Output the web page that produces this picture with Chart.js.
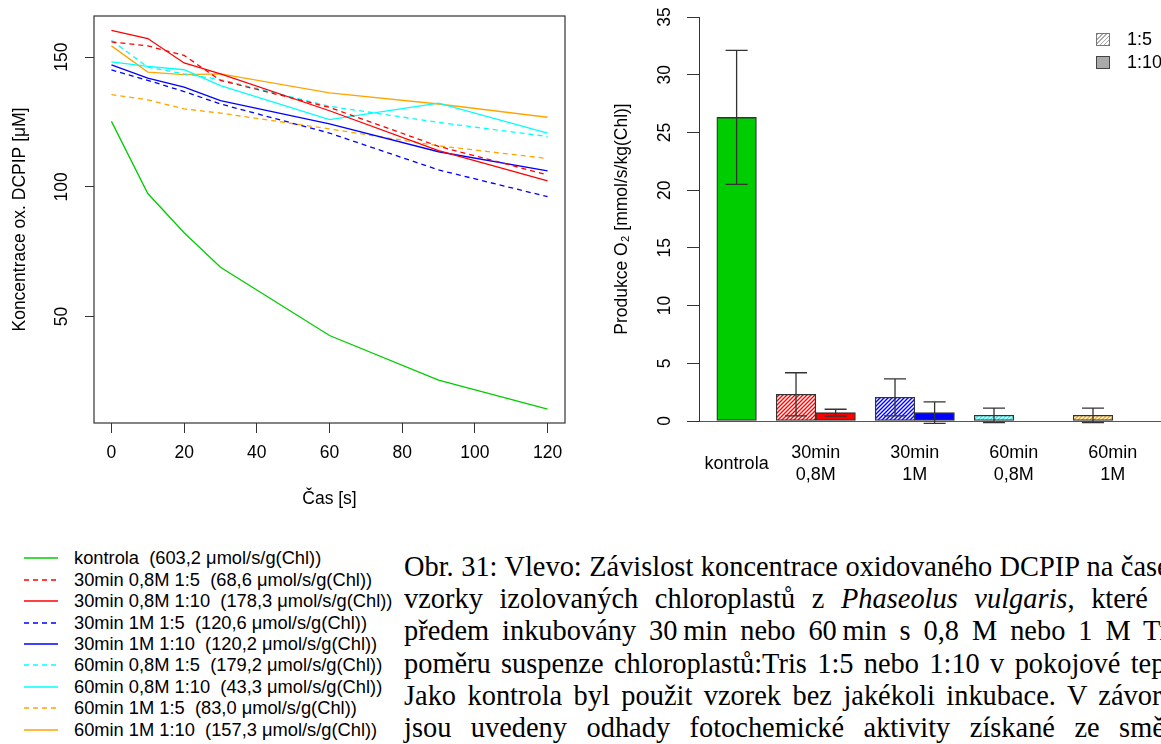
<!DOCTYPE html>
<html>
<head>
<meta charset="utf-8">
<script src="https://cdn.jsdelivr.net/npm/chart.js@4.4.0/dist/chart.umd.min.js"></script>
<style>
  html, body { margin: 0; padding: 0; background: #fff; }
  body { width: 1161px; height: 744px; overflow: hidden; position: relative; font-family: 'Liberation Sans', Arial, sans-serif; color: #000; }
  #lineWrap { position: absolute; left: 0; top: 0; }
  #barWrap { position: absolute; left: 590px; top: 0; }
  .leg { position: absolute; left: 0; height: 21.4px; line-height: 21.4px; font-size: 18.3px; white-space: pre; }
  .leg svg { position: absolute; left: 24px; top: 0; }
  .leg span { position: absolute; left: 74px; top: 0; }
  .box { position: absolute; left: 1096px; width: 12px; height: 11px; }
  .boxlab { position: absolute; left: 1127px; font-size: 18px; line-height: 22px; }
  .cap { position: absolute; left: 404px; width: 811px; font-family: 'Liberation Serif', 'Times New Roman', serif; font-size: 28.4px; line-height: 32.2px; text-align: justify; text-align-last: justify; white-space: nowrap; }
</style>
</head>
<body>
<div id="lineWrap"><canvas id="lineChart" width="580" height="530"></canvas></div>
<div id="barWrap"><canvas id="barChart" width="710" height="530"></canvas></div>

<div class="box" style="top:33px; border:1px solid #777; background:repeating-linear-gradient(-45deg, #aaa 0 1px, #fff 1px 3px);"></div>
<div class="boxlab" style="top:28px;">1:5</div>
<div class="box" style="top:56px; border:1px solid #444; background:#aaa;"></div>
<div class="boxlab" style="top:51px;">1:10</div>

<div id="legend"></div>

<div class="cap" style="top:551px;">Obr. 31: Vlevo: Závislost koncentrace oxidovaného DCPIP na čase pro</div>
<div class="cap" style="top:583.2px;">vzorky izolovaných chloroplastů z <i>Phaseolus vulgaris</i>, které byly</div>
<div class="cap" style="top:615.4px;">předem inkubovány 30&#8239;min nebo 60&#8239;min s 0,8 M nebo 1 M Tris v</div>
<div class="cap" style="top:647.6px;">poměru suspenze chloroplastů:Tris 1:5 nebo 1:10 v pokojové teplotě.</div>
<div class="cap" style="top:679.8px;">Jako kontrola byl použit vzorek bez jakékoli inkubace. V závorkách</div>
<div class="cap" style="top:712px; width:805px;">jsou uvedeny odhady fotochemické aktivity získané ze směrnic</div>

<script>
// left plot: oxidised DCPIP over time
const timeS = [0, 10, 20, 30, 60, 90, 120];
const timeTicks = [0, 20, 40, 60, 80, 100, 120];
const concTicks = [50, 100, 150];

const kontrola   = [125.2, 97.4, 82.3, 69.0, 42.7, 25.5, 14.3];
const m30_08_5   = [155.8, 154.3, 150.6, 141.0, 130.6, 115.6, 104.6];
const m30_08_10  = [160.3, 157.1, 147.7, 143.5, 129.3, 113.9, 102.3];
const m30_1_5    = [145.0, 141.0, 136.7, 131.9, 120.7, 106.5, 96.2];
const m30_1_10   = [147.0, 141.9, 138.4, 133.2, 124.2, 113.5, 106.1];
const m60_08_5   = [156.4, 146.1, 143.5, 141.3, 131.0, 124.8, 119.4];
const m60_08_10  = [148.1, 146.4, 145.1, 139.0, 125.9, 132.2, 120.7];
const m60_1_5    = [135.5, 133.5, 130.0, 128.4, 122.3, 115.8, 110.9];
const m60_1_10   = [154.3, 144.2, 143.2, 143.5, 136.2, 131.9, 126.8];

const seriesNames = ['kontrola', '30min 0,8M 1:5', '30min 0,8M 1:10', '30min 1M 1:5', '30min 1M 1:10',
  '60min 0,8M 1:5', '60min 0,8M 1:10', '60min 1M 1:5', '60min 1M 1:10'];
const seriesRates = [603.2, 68.6, 178.3, 120.6, 120.2, 179.2, 43.3, 83.0, 157.3];

// right plot: O2 production
const groups = [['kontrola'], ['30min', '0,8M'], ['30min', '1M'], ['60min', '0,8M'], ['60min', '1M']];
const ratio5 = [26.3, 2.31, 2.05, 0.49, 0.49];
const ratio5Err = [5.8, 1.87, 1.6, 0.62, 0.62];
const ratio10 = [null, 0.72, 0.72, 0, 0];
const ratio10Err = [null, 0.3, 0.93, 0, 0];
const o2Ticks = [0, 5, 10, 15, 20, 25, 30, 35];

const green = '#00cd00', red = '#ff0000', blue = '#0000ff', cyan = '#00ffff', orange = '#ffa500';
const lineStyles = [
  [green, false], [red, true], [red, false], [blue, true], [blue, false],
  [cyan, true], [cyan, false], [orange, true], [orange, false]
];
const groupColors = [green, red, blue, cyan, orange];
const seriesValues = [kontrola, m30_08_5, m30_08_10, m30_1_5, m30_1_10, m60_08_5, m60_08_10, m60_1_5, m60_1_10];

Chart.defaults.font.family = "'Liberation Sans', Arial, sans-serif";
Chart.defaults.color = '#000';

const frame = {
  id: 'frame',
  afterDraw(chart) {
    const { ctx, chartArea: a } = chart;
    ctx.save();
    ctx.strokeStyle = '#333';
    ctx.lineWidth = 1.2;
    ctx.strokeRect(a.left, a.top, a.right - a.left, a.bottom - a.top);
    ctx.restore();
  }
};

new Chart(document.getElementById('lineChart'), {
  type: 'line',
  data: {
    datasets: seriesValues.map((vals, k) => ({
      label: seriesNames[k],
      data: timeS.map((t, i) => ({ x: t, y: vals[i] })),
      borderColor: lineStyles[k][0],
      borderDash: lineStyles[k][1] ? [5, 4] : [],
      borderWidth: 1.3,
      pointRadius: 0,
      tension: 0,
      fill: false
    }))
  },
  options: {
    responsive: false,
    animation: false,
    layout: { padding: { top: 16, right: 15, bottom: 0, left: 0 } },
    plugins: { legend: { display: false }, tooltip: { enabled: false } },
    scales: {
      x: {
        type: 'linear', min: -4.8, max: 124.8, bounds: 'data',
        afterBuildTicks: s => { s.ticks = timeTicks.map(v => ({ value: v })); },
        afterFit: s => { s.height = 107; s.paddingLeft = 0; s.paddingRight = 0; },
        grid: { drawOnChartArea: false, tickLength: 10, tickColor: '#333' },
        border: { display: false },
        ticks: { padding: 9.2, font: { size: 17.5 }, maxRotation: 0, autoSkip: false },
        title: { display: true, text: 'Čas [s]', font: { size: 17.5 }, padding: { top: 0, bottom: 20.5 } }
      },
      y: {
        min: 9, max: 165.8, bounds: 'data',
        afterBuildTicks: s => { s.ticks = concTicks.map(v => ({ value: v })); },
        afterFit: s => { s.width = 94; s.paddingTop = 0; s.paddingBottom = 0; },
        grid: { drawOnChartArea: false, tickLength: 9, tickColor: '#333' },
        border: { display: false },
        ticks: { minRotation: 90, maxRotation: 90, crossAlign: 'center', padding: 8.7, font: { size: 17.5 } },
        title: { display: true, text: 'Koncentrace ox. DCPIP [μM]', font: { size: 17.5 }, padding: { top: 9.5, bottom: 0 } }
      }
    }
  },
  plugins: [frame]
});

// legend under the left plot
const legend = document.getElementById('legend');
seriesNames.forEach((name, k) => {
  const row = document.createElement('div');
  row.className = 'leg';
  row.style.top = (547.3 + k * 21.4) + 'px';
  const dash = lineStyles[k][1] ? ' stroke-dasharray="5 4"' : '';
  row.innerHTML = '<svg width="34" height="22"><line x1="0" y1="11" x2="34" y2="11" stroke="' + lineStyles[k][0] +
    '" stroke-width="1.3"' + dash + '/></svg><span>' + name + '  (' +
    seriesRates[k].toFixed(1).replace('.', ',') + ' μmol/s/g(Chl))</span>';
  legend.appendChild(row);
});

const barCanvas = document.getElementById('barChart');
function hatch(color) {
  const c = document.createElement('canvas');
  c.width = 4; c.height = 4;
  const g = c.getContext('2d');
  g.fillStyle = '#fff';
  g.fillRect(0, 0, 4, 4);
  g.strokeStyle = color;
  g.lineWidth = 1.4;
  g.beginPath();
  g.moveTo(0, 4); g.lineTo(4, 0);
  g.moveTo(-1, 1); g.lineTo(1, -1);
  g.moveTo(3, 5); g.lineTo(5, 3);
  g.stroke();
  return barCanvas.getContext('2d').createPattern(c, 'repeat');
}

// kontrola stands alone, the other groups are pairs
const groupX = i => (i === 0 ? 1 : 3 + 2.5 * (i - 1));

const errorBars = {
  id: 'errorBars',
  afterDatasetsDraw(chart) {
    const ctx = chart.ctx, y = chart.scales.y;
    const errs = [ratio5Err, ratio10Err];
    ctx.save();
    ctx.strokeStyle = '#333';
    ctx.lineWidth = 1.3;
    chart.data.datasets.forEach((ds, i) => {
      chart.getDatasetMeta(i).data.forEach((bar, j) => {
        const v = ds.data[j].y, e = errs[i][j];
        if (v == null || !e) return;
        const top = y.getPixelForValue(v + e), bot = y.getPixelForValue(v - e);
        ctx.beginPath();
        ctx.moveTo(bar.x, top); ctx.lineTo(bar.x, bot);
        ctx.moveTo(bar.x - 11, top); ctx.lineTo(bar.x + 11, top);
        ctx.moveTo(bar.x - 11, bot); ctx.lineTo(bar.x + 11, bot);
        ctx.stroke();
      });
    });
    ctx.restore();
  }
};

new Chart(barCanvas, {
  type: 'bar',
  data: {
    datasets: [
      {
        label: '1:5',
        data: groups.map((g, i) => ({ x: groupX(i), y: ratio5[i] })),
        backgroundColor: groupColors.map((c, i) => (i === 0 ? c : hatch(c))),
        skipNull: true
      },
      {
        label: '1:10',
        data: groups.map((g, i) => ({ x: groupX(i), y: ratio10[i] })),
        backgroundColor: groupColors,
        skipNull: true
      }
    ]
  },
  options: {
    responsive: false,
    animation: false,
    barThickness: 39.6,
    borderSkipped: false,
    borderWidth: 1.3,
    borderColor: '#333',
    layout: { padding: { top: 17, right: 9, bottom: 0, left: 0 } },
    plugins: { legend: { display: false }, tooltip: { enabled: false } },
    scales: {
      x: {
        type: 'linear', min: 0.05, max: 15, bounds: 'data', offset: false,
        afterBuildTicks: s => { s.ticks = groups.map((g, i) => ({ value: groupX(i) })); },
        afterFit: s => { s.height = 109; s.paddingLeft = 0; s.paddingRight = 0; },
        grid: { display: false, drawTicks: false, offset: false },
        border: { display: true, color: '#555', width: 1 },
        ticks: {
          callback: (v, i) => groups[i], autoSkip: false, maxRotation: 0, minRotation: 0,
          crossAlign: 'center', padding: 32, font: { size: 18, lineHeight: 1.222 }
        }
      },
      y: {
        min: 0, max: 35, bounds: 'data',
        afterBuildTicks: s => { s.ticks = o2Ticks.map(v => ({ value: v })); },
        afterFit: s => { s.width = 109; s.paddingTop = 0; s.paddingBottom = 0; },
        grid: { drawOnChartArea: false, tickLength: 12, tickColor: '#333' },
        border: { display: true, color: '#333', width: 1 },
        ticks: { minRotation: 90, maxRotation: 90, crossAlign: 'center', padding: 12.3, font: { size: 17.5 } },
        title: { display: true, text: 'Produkce O₂ [mmol/s/kg(Chl)]', font: { size: 17.5 }, padding: { top: 21.2, bottom: 0 } }
      }
    }
  },
  plugins: [errorBars]
});
</script>
</body>
</html>
